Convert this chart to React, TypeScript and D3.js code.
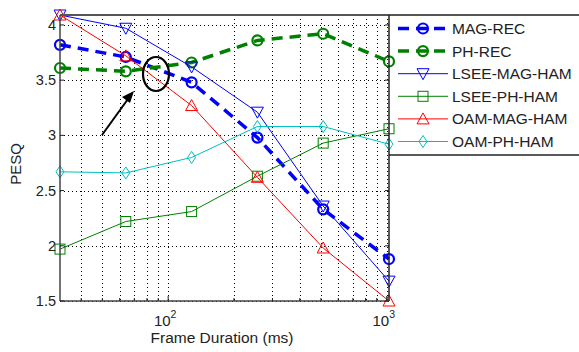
import React, { useEffect, useRef } from 'react';
import * as d3 from 'd3';

// frame durations (ms)
const durations = [32, 64, 128, 256, 512, 1024];

const magRec = [3.82, 3.71, 3.48, 2.98, 2.33, 1.88];
const phRec = [3.61, 3.58, 3.66, 3.86, 3.92, 3.67];
const lseeMagHam = [4.09, 3.97, 3.62, 3.21, 2.36, 1.68];
const lseePhHam = [1.97, 2.22, 2.31, 2.63, 2.93, 3.06];
const oamMagHam = [4.09, 3.72, 3.27, 2.62, 1.98, 1.5];
const oamPhHam = [2.67, 2.66, 2.8, 3.08, 3.08, 2.92];

const yTicks = [1.5, 2, 2.5, 3, 3.5, 4];
const xMajorTicks = [100, 1000];

const seriesList = [
  { name: 'MAG-REC', values: magRec, color: '#0000ff', thick: true, marker: 'circle' },
  { name: 'PH-REC', values: phRec, color: '#008000', thick: true, marker: 'circle' },
  { name: 'LSEE-MAG-HAM', values: lseeMagHam, color: '#0000ff', thick: false, marker: 'down' },
  { name: 'LSEE-PH-HAM', values: lseePhHam, color: '#008000', thick: false, marker: 'square' },
  { name: 'OAM-MAG-HAM', values: oamMagHam, color: '#ff0000', thick: false, marker: 'up' },
  { name: 'OAM-PH-HAM', values: oamPhHam, color: '#00bfbf', thick: false, marker: 'diamond' },
];

const drawMarker = (g, type, cx, cy, color, thick) => {
  const sw = thick ? 2.2 : 1;
  if (type === 'circle') {
    g.append('circle').attr('cx', cx).attr('cy', cy).attr('r', 5)
      .attr('fill', 'none').attr('stroke', color).attr('stroke-width', sw);
  } else if (type === 'square') {
    g.append('rect').attr('x', cx - 5).attr('y', cy - 5).attr('width', 10).attr('height', 10)
      .attr('fill', 'none').attr('stroke', color).attr('stroke-width', sw);
  } else if (type === 'up') {
    g.append('path').attr('d', `M${cx},${cy - 6}L${cx + 6},${cy + 5}L${cx - 6},${cy + 5}Z`)
      .attr('fill', 'none').attr('stroke', color).attr('stroke-width', sw);
  } else if (type === 'down') {
    g.append('path').attr('d', `M${cx},${cy + 6}L${cx + 6},${cy - 5}L${cx - 6},${cy - 5}Z`)
      .attr('fill', 'none').attr('stroke', color).attr('stroke-width', sw);
  } else if (type === 'diamond') {
    g.append('path').attr('d', `M${cx},${cy - 6}L${cx + 4},${cy}L${cx},${cy + 6}L${cx - 4},${cy}Z`)
      .attr('fill', 'none').attr('stroke', color).attr('stroke-width', sw);
  }
};

const App = () => {
  const svgRef = useRef(null);
  const width = 579;
  const height = 352;

  useEffect(() => {
    const svg = d3.select(svgRef.current);
    svg.selectAll('*').remove();

    const left = 60, right = 389, top = 15, bottom = 301;
    const font = 'Liberation Sans, Arial, sans-serif';

    const x = d3.scaleLog().domain([32, 1024]).range([left, right]);
    const y = d3.scaleLinear().domain([1.5, 4.09]).range([bottom, top]);

    svg.append('rect').attr('width', width).attr('height', height).attr('fill', '#fff');

    // grid
    const minor = [];
    for (let d = 10; d <= 1000; d *= 10) {
      for (let k = 1; k <= 9; k++) {
        const v = d * k;
        if (v > 32 && v < 1024) minor.push(v);
      }
    }
    const grid = svg.append('g').attr('stroke', '#000').attr('stroke-width', 1)
      .attr('stroke-dasharray', '1,3');
    minor.forEach(v => {
      grid.append('line').attr('x1', Math.round(x(v)) + 0.5).attr('x2', Math.round(x(v)) + 0.5)
        .attr('y1', top).attr('y2', bottom);
    });
    yTicks.forEach(v => {
      grid.append('line').attr('x1', left).attr('x2', right)
        .attr('y1', Math.round(y(v)) + 0.5).attr('y2', Math.round(y(v)) + 0.5);
    });

    // series
    seriesList.forEach(s => {
      const line = d3.line().x((d, i) => x(durations[i])).y(d => y(d));
      svg.append('path').datum(s.values)
        .attr('d', line)
        .attr('fill', 'none')
        .attr('stroke', s.color)
        .attr('stroke-width', s.thick ? 3.5 : 1)
        .attr('stroke-dasharray', s.thick ? '11,7' : null);
      const mg = svg.append('g');
      s.values.forEach((v, i) => drawMarker(mg, s.marker, x(durations[i]), y(v), s.color, s.thick));
    });

    // axes frame
    svg.append('line').attr('x1', left).attr('x2', width).attr('y1', top).attr('y2', top)
      .attr('stroke', '#555').attr('stroke-width', 2);
    svg.append('line').attr('x1', left).attr('x2', left).attr('y1', top).attr('y2', bottom)
      .attr('stroke', '#444').attr('stroke-width', 1.5);
    svg.append('line').attr('x1', left).attr('x2', right).attr('y1', bottom).attr('y2', bottom)
      .attr('stroke', '#444').attr('stroke-width', 1.5);
    svg.append('line').attr('x1', right).attr('x2', right).attr('y1', top).attr('y2', bottom)
      .attr('stroke', '#222').attr('stroke-width', 1.5);

    // tick marks
    yTicks.forEach(v => {
      svg.append('line').attr('x1', left).attr('x2', left + 4).attr('y1', y(v)).attr('y2', y(v)).attr('stroke', '#222');
      svg.append('line').attr('x1', right - 4).attr('x2', right).attr('y1', y(v)).attr('y2', y(v)).attr('stroke', '#222');
      svg.append('text').attr('x', left - 4).attr('y', y(v) + 5)
        .attr('text-anchor', 'end').attr('font-family', font).attr('font-size', 14.5)
        .attr('fill', '#222').text(String(v));
    });
    minor.forEach(v => {
      const len = xMajorTicks.includes(v) ? 5 : 3;
      svg.append('line').attr('x1', x(v)).attr('x2', x(v)).attr('y1', bottom).attr('y2', bottom - len).attr('stroke', '#222');
    });
    xMajorTicks.forEach(v => {
      const t = svg.append('text').attr('x', x(v) - 3).attr('y', bottom + 25)
        .attr('text-anchor', 'middle').attr('font-family', font).attr('font-size', 15).attr('fill', '#222');
      t.append('tspan').text('10');
      t.append('tspan').attr('dy', -8).attr('font-size', 10.5).text(String(Math.log10(v)));
    });

    // axis labels
    svg.append('text').attr('x', 222).attr('y', 343)
      .attr('text-anchor', 'middle').attr('font-family', font).attr('font-size', 15.5)
      .attr('fill', '#222').text('Frame Duration (ms)');
    svg.append('text').attr('transform', 'translate(21,164) rotate(-90)')
      .attr('text-anchor', 'middle').attr('font-family', font).attr('font-size', 15)
      .attr('fill', '#222').text('PESQ');

    // legend
    const lg = svg.append('g');
    lg.append('line').attr('x1', right).attr('x2', width).attr('y1', 155).attr('y2', 155)
      .attr('stroke', '#222').attr('stroke-width', 1.5);
    seriesList.forEach((s, i) => {
      const ly = 28.5 + i * 22.6;
      lg.append('line').attr('x1', 398).attr('x2', 448).attr('y1', ly).attr('y2', ly)
        .attr('stroke', s.color).attr('stroke-width', s.thick ? 3.5 : 1)
        .attr('stroke-dasharray', s.thick ? '11,7' : null);
      drawMarker(lg, s.marker, 423, ly, s.color, s.thick);
      lg.append('text').attr('x', 452).attr('y', ly + 5.5)
        .attr('font-family', font).attr('font-size', 15.5).attr('fill', '#222').text(s.name);
    });

    // annotation: ellipse and arrow
    svg.append('ellipse').attr('cx', 156).attr('cy', 74).attr('rx', 13).attr('ry', 17)
      .attr('fill', 'none').attr('stroke', '#000').attr('stroke-width', 2.2);
    svg.append('line').attr('x1', 102).attr('y1', 135).attr('x2', 128).attr('y2', 99)
      .attr('stroke', '#000').attr('stroke-width', 2);
    svg.append('path').attr('d', 'M134,91L122,97L130,103Z').attr('fill', '#000');
  }, []);

  return (
    <svg ref={svgRef} width={width} height={height}
      style={{ position: 'absolute', left: 0, top: 0 }} />
  );
};

export default App;
